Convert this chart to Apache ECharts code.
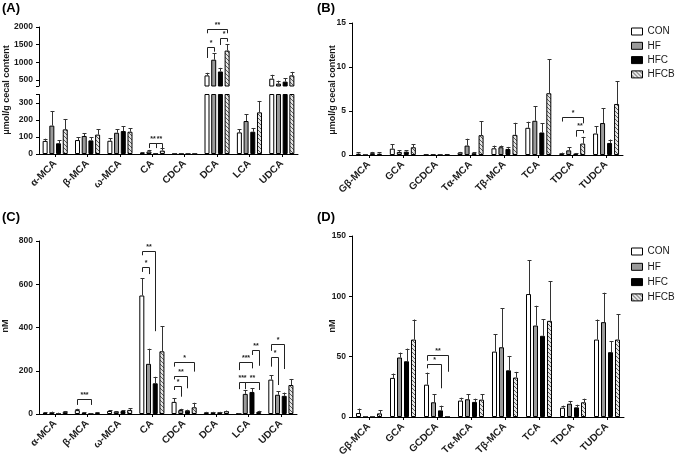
<!DOCTYPE html>
<html><head><meta charset="utf-8">
<script src="https://cdn.jsdelivr.net/npm/echarts@6/dist/echarts.min.js"></script>
<style>html,body{margin:0;padding:0;background:#fff}#c{width:676px;height:456px}</style>
</head><body><div id="c"></div><script>
const groups = ['CON', 'HF', 'HFC', 'HFCB'];

// Panel A (µmol/g cecal content)
const catsA = ['α-MCA', 'β-MCA', 'ω-MCA', 'CA', 'CDCA', 'DCA', 'LCA', 'UDCA'];
const A_CON = [77, 82, 78, 5, 0.5, 630, 127, 537];
const A_CON_sd = [13, 18, 16, 4, 0, 74, 20, 111];
const A_HF = [167, 106, 125, 15, 0.5, 1074, 194, 398];
const A_HF_sd = [86, 17, 20, 9, 0, 185, 41, 83];
const A_HFC = [63, 80, 135, 1, 0.5, 741, 131, 454];
const A_HFC_sd = [19, 20, 28, 0, 0, 102, 22, 102];
const A_HFCB = [145, 114, 131, 20, 0.5, 1333, 245, 630];
const A_HFCB_sd = [61, 31, 20, 13, 0, 186, 67, 101];
const A_ticksLow = [0, 100, 200, 300];
const A_ticksUp = [500, 1000, 1500, 2000];

// Panel B (µmol/g cecal content)
const catsB = ['Gβ-MCA', 'GCA', 'GCDCA', 'Tα-MCA', 'Tβ-MCA', 'TCA', 'TDCA', 'TUDCA'];
const B_CON = [0.15, 0.72, 0.03, 0.27, 0.76, 3.09, 0.19, 2.44];
const B_CON_sd = [0.15, 0.48, 0.01, 0.08, 0.31, 0.69, 0.08, 0.84];
const B_HF = [0, 0.35, 0.03, 1.07, 0.88, 3.89, 0.53, 3.63];
const B_HF_sd = [0, 0.2, 0.01, 0.78, 0.19, 1.64, 0.35, 1.71];
const B_HFC = [0.2, 0.38, 0.01, 0.2, 0.69, 2.56, 0.15, 1.37];
const B_HFC_sd = [0.15, 0.17, 0.01, 0.1, 0.23, 1.07, 0.08, 0.39];
const B_HFCB = [0.15, 0.88, 0.04, 2.25, 2.29, 7.02, 1.3, 5.8];
const B_HFCB_sd = [0.15, 0.32, 0.01, 1.6, 1.37, 3.88, 0.76, 2.56];

// Panel C (nM)
const catsC = ['α-MCA', 'β-MCA', 'ω-MCA', 'CA', 'CDCA', 'DCA', 'LCA', 'UDCA'];
const C_CON = [5, 18, 14, 548, 56, 7, 3, 159];
const C_CON_sd = [3, 6, 3, 79, 16, 3, 1, 21];
const C_HF = [8, 6, 11, 232, 18, 8, 93, 89];
const C_HF_sd = [3, 3, 3, 70, 6, 2, 18, 16];
const C_HFC = [4, 2, 14, 142, 15, 8, 102, 84];
const C_HFC_sd = [2, 1, 4, 30, 5, 2, 16, 15];
const C_HFCB = [10, 6, 19, 290, 31, 13, 9, 134];
const C_HFCB_sd = [4, 3, 7, 116, 21, 3, 6, 28];

// Panel D (nM)
const catsD = ['Gβ-MCA', 'GCA', 'GCDCA', 'Tα-MCA', 'Tβ-MCA', 'TCA', 'TDCA', 'TUDCA'];
const D_CON = [3.3, 32.4, 26.8, 13.6, 54.2, 101.9, 7.7, 64.2];
const D_CON_sd = [3.7, 3.6, 10, 2.4, 14.2, 27.9, 1.7, 16.6];
const D_HF = [0, 49.3, 12.2, 14.7, 57.8, 75.8, 11, 78.6];
const D_HF_sd = [0, 4.1, 6.6, 4.1, 32.2, 16.4, 2.3, 24.4];
const D_HFC = [0, 46.2, 5.5, 12.5, 38.7, 67.3, 8, 53.7];
const D_HFC_sd = [0, 10.5, 3.9, 2.7, 11.9, 13.8, 2.2, 9.1];
const D_HFCB = [3, 64.2, 0, 14.4, 32.7, 79.7, 12.2, 64.2];
const D_HFCB_sd = [2.5, 16.6, 0, 4.4, 4.7, 32.9, 3, 21];

// Significance brackets: [category, fromGroup, toGroup, barValue, leftLegEnd, rightLegEnd, label]
const bracketsA_low = [[3, 1, 2, 65, 35, 35, '**'], [3, 2, 3, 65, 35, 35, '**']];
const bracketsA_up = [[5, 0, 1, 1442, 1123, 1301, '*'], [5, 2, 3, 1697, 1491, 1584, '*'], [5, 0, 3, 1943, 1822, 1822, '**']];
const bracketsB = [[6, 0, 3, 4.32, 3.8, 3.6, '*'], [6, 2, 3, 2.84, 2.08, 2.47, '**']];
const bracketsC = [
  [1, 0, 2, 69, 42, 42, '***'],
  [3, 0, 1, 679, 657, 647, '*'],
  [3, 0, 2, 753, 734, 383, '**'],
  [4, 0, 1, 131, 111, 80, '*'],
  [4, 0, 2, 175, 160, 119, '**'],
  [4, 0, 3, 242, 219, 196, '*'],
  [6, 0, 1, 146, 115, 115, '***'],
  [6, 1, 3, 149, 126, 111, '**'],
  [6, 0, 2, 239, 203, 211, '***'],
  [6, 2, 3, 296, 273, 223, '**'],
  [7, 0, 1, 265, 219, 134, '*'],
  [7, 0, 2, 323, 292, 208, '*']
];
const bracketsD = [[2, 0, 3, 51.4, 46.6, 37.5, '**'], [2, 0, 2, 43.9, 40.3, 23.8, '*']];

const FF = '"Liberation Sans", Arial, sans-serif';
const INK = '#1a1a1a';

function hatch() {
  const c = document.createElement('canvas');
  c.width = 4; c.height = 4;
  const x = c.getContext('2d');
  x.fillStyle = '#e6e6e6'; x.fillRect(0, 0, 4, 4);
  x.fillStyle = '#5a5a5a';
  for (let i = 0; i < 4; i++) x.fillRect(i, i, 1, 1);
  return c;
}
const pattern = { image: hatch(), repeat: 'repeat' };
const styles = [
  { color: '#ffffff', borderColor: '#000', borderWidth: 1 },
  { color: '#9a9a9a', borderColor: '#000', borderWidth: 1 },
  { color: '#000000', borderColor: '#000', borderWidth: 1 },
  { color: pattern, borderColor: '#000', borderWidth: 1 }
];

const BW = 5;
function bars(ai, vals, gapPct) {
  return groups.map((g, gi) => ({
    name: g, type: 'bar', xAxisIndex: ai, yAxisIndex: ai, data: vals[gi],
    barWidth: BW, barGap: gapPct + '%', clip: true, itemStyle: styles[gi],
    emphasis: { disabled: true }, silent: true, z: 2
  }));
}
function errs(ai, vals, sds, step) {
  const data = [];
  groups.forEach((g, gi) => vals[gi].forEach((v, i) => { if (sds[gi][i] > 0) data.push([i, gi, v, v + sds[gi][i]]); }));
  return {
    type: 'custom', xAxisIndex: ai, yAxisIndex: ai, data, clip: true, silent: true, z: 4,
    encode: { x: 0, y: 3 },
    renderItem(params, api) {
      const cs = params.coordSys;
      const i = api.value(0), gi = api.value(1);
      const p0 = api.coord([i, api.value(2)]);
      const p1 = api.coord([i, api.value(3)]);
      const x = Math.round(p0[0] + (gi - 1.5) * step) + 0.5;
      const yb = Math.min(p0[1], cs.y + cs.height);
      const yt = Math.max(p1[1], cs.y);
      if (yt >= yb) return null;
      const ch = [{ type: 'line', shape: { x1: x, y1: yb, x2: x, y2: yt }, style: { stroke: '#333', lineWidth: 1 } }];
      if (p1[1] >= cs.y) {
        const yc = Math.round(p1[1]) + 0.5;
        ch.push({ type: 'line', shape: { x1: x - 2, y1: yc, x2: x + 2, y2: yc }, style: { stroke: '#333', lineWidth: 1 } });
      }
      return { type: 'group', children: ch };
    }
  };
}
function brk(ai, list, step) {
  return {
    type: 'custom', xAxisIndex: ai, yAxisIndex: ai, silent: true, z: 5,
    data: list.map(b => [b[0], b[3]]), encode: { x: 0, y: 1 },
    renderItem(params, api) {
      const b = list[params.dataIndex];
      const c = api.coord([b[0], b[3]]);
      const x1 = Math.round(c[0] + (b[1] - 1.5) * step) + 0.5;
      const x2 = Math.round(c[0] + (b[2] - 1.5) * step) + 0.5;
      const y = Math.round(c[1]) + 0.5;
      const yl = api.coord([b[0], b[4]])[1];
      const yr = api.coord([b[0], b[5]])[1];
      return { type: 'group', children: [
        { type: 'polyline', shape: { points: [[x1, yl], [x1, y], [x2, y], [x2, yr]] }, style: { stroke: '#222', fill: null, lineWidth: 1 } },
        { type: 'text', style: { text: b[6], x: (x1 + x2) / 2, y: y - 1, align: 'center', verticalAlign: 'bottom', font: 'bold 7px ' + FF, fill: '#222' } }
      ] };
    }
  };
}

const axLine = { show: true, lineStyle: { color: '#000', width: 1 } };
const yLab = { color: INK, fontSize: 8.5, fontWeight: 'bold', fontFamily: FF, margin: 6, formatter: v => String(v) };
const xLab = { color: INK, fontSize: 10, fontWeight: 'bold', fontFamily: FF, rotate: 45, margin: 8, interval: 0 };
function xAx(gi, cats, show) {
  return { type: 'category', gridIndex: gi, data: cats, show: show, axisLine: axLine,
    axisTick: { show: true, alignWithLabel: true, length: 3, lineStyle: { color: '#000' } },
    axisLabel: xLab, splitLine: { show: false } };
}
function yAx(gi, min, max, interval, labVals, tickVals) {
  const o = { type: 'value', gridIndex: gi, min, max, axisLine: axLine,
    axisTick: { show: true, length: 3, lineStyle: { color: '#000' } },
    axisLabel: Object.assign({}, yLab), splitLine: { show: false } };
  if (interval) o.interval = interval;
  if (labVals) { o.axisLabel.customValues = labVals; o.axisTick.customValues = tickVals; }
  return o;
}
const gridBase = { containLabel: false, outerBoundsMode: 'none', show: false };
const g = (l, t, w, h) => Object.assign({ left: l, top: t, width: w, height: h }, gridBase);

const legendBase = { data: groups, orient: 'vertical', left: 631, padding: 0, itemWidth: 11, itemHeight: 7, icon: 'rect',
  selectedMode: false, textStyle: { fontSize: 10, fontFamily: FF, color: INK, lineHeight: 11 },
  itemStyle: { borderColor: '#000', borderWidth: 1 } };

const stepA = BW * 1.34, stepB = BW * 1.4;
const option = {
  animation: false,
  backgroundColor: '#fff',
  grid: [g(39, 27, 259, 59), g(39, 94.5, 259, 59.5), g(352, 23, 271, 132), g(39, 241, 258, 173), g(352, 236, 272, 181)],
  xAxis: [xAx(0, catsA, false), xAx(1, catsA, true), xAx(2, catsB, true), xAx(3, catsC, true), xAx(4, catsD, true)],
  yAxis: [
    yAx(0, 330, 2000, null, A_ticksUp, [330].concat(A_ticksUp)),
    yAx(1, 0, 350, null, A_ticksLow, A_ticksLow.concat([350])),
    yAx(2, 0, 15, 5),
    yAx(3, 0, 800, 200),
    yAx(4, 0, 150, 50)
  ],
  legend: [Object.assign({ top: 26, itemGap: 3.3 }, legendBase), Object.assign({ top: 246, itemGap: 4.3 }, legendBase)],
  graphic: [
    { type: 'text', left: 2, top: 2, style: { text: '(A)', font: 'bold 13px ' + FF, fill: '#000' } },
    { type: 'text', left: 317, top: 2, style: { text: '(B)', font: 'bold 13px ' + FF, fill: '#000' } },
    { type: 'text', left: 2, top: 211, style: { text: '(C)', font: 'bold 13px ' + FF, fill: '#000' } },
    { type: 'text', left: 317, top: 211, style: { text: '(D)', font: 'bold 13px ' + FF, fill: '#000' } },
    { type: 'text', x: 7, y: 90, rotation: Math.PI / 2, style: { text: 'μmol/g cecal content', font: 'bold 9px ' + FF, fill: INK, align: 'center', verticalAlign: 'middle' } },
    { type: 'text', x: 333, y: 90, rotation: Math.PI / 2, style: { text: 'μmol/g cecal content', font: 'bold 9px ' + FF, fill: INK, align: 'center', verticalAlign: 'middle' } },
    { type: 'text', x: 6, y: 326, rotation: Math.PI / 2, style: { text: 'nM', font: 'bold 9px ' + FF, fill: INK, align: 'center', verticalAlign: 'middle' } },
    { type: 'text', x: 333, y: 326, rotation: Math.PI / 2, style: { text: 'nM', font: 'bold 9px ' + FF, fill: INK, align: 'center', verticalAlign: 'middle' } }
  ],
  series: [].concat(
    bars(0, [A_CON, A_HF, A_HFC, A_HFCB], 34),
    bars(1, [A_CON, A_HF, A_HFC, A_HFCB], 34),
    bars(2, [B_CON, B_HF, B_HFC, B_HFCB], 40),
    bars(3, [C_CON, C_HF, C_HFC, C_HFCB], 34),
    bars(4, [D_CON, D_HF, D_HFC, D_HFCB], 40),
    [
      errs(0, [A_CON, A_HF, A_HFC, A_HFCB], [A_CON_sd, A_HF_sd, A_HFC_sd, A_HFCB_sd], stepA),
      errs(1, [A_CON, A_HF, A_HFC, A_HFCB], [A_CON_sd, A_HF_sd, A_HFC_sd, A_HFCB_sd], stepA),
      errs(2, [B_CON, B_HF, B_HFC, B_HFCB], [B_CON_sd, B_HF_sd, B_HFC_sd, B_HFCB_sd], stepB),
      errs(3, [C_CON, C_HF, C_HFC, C_HFCB], [C_CON_sd, C_HF_sd, C_HFC_sd, C_HFCB_sd], stepA),
      errs(4, [D_CON, D_HF, D_HFC, D_HFCB], [D_CON_sd, D_HF_sd, D_HFC_sd, D_HFCB_sd], stepB),
      brk(0, bracketsA_up, stepA),
      brk(1, bracketsA_low, stepA),
      brk(2, bracketsB, stepB),
      brk(3, bracketsC, stepA),
      brk(4, bracketsD, stepB)
    ]
  )
};
const chart = echarts.init(document.getElementById('c'));
chart.setOption(option);
</script></body></html>
